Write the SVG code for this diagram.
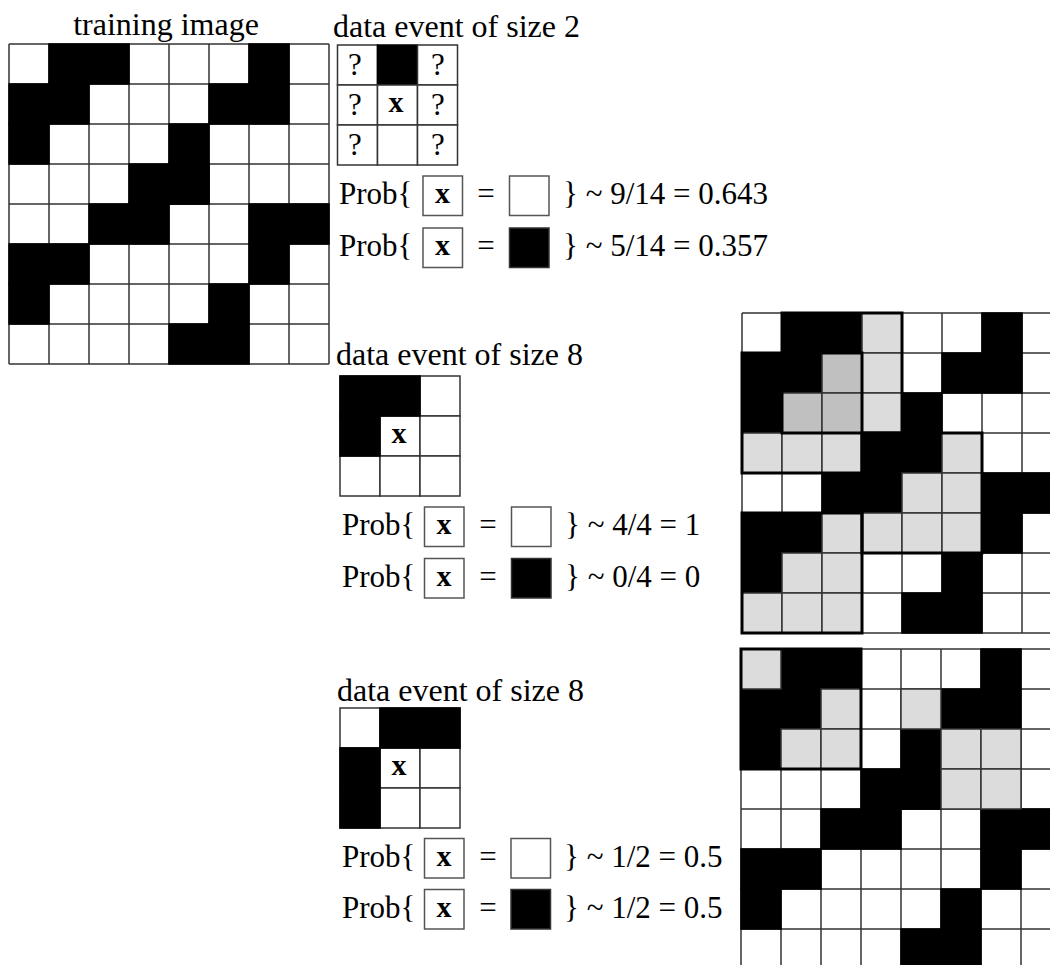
<svg xmlns="http://www.w3.org/2000/svg" xmlns:xlink="http://www.w3.org/1999/xlink" width="1050" height="965" viewBox="0 0 1050 965">
<style>
text{font-family:"Liberation Serif","Times New Roman",serif;font-size:31px;fill:#000}
.t{font-size:32px}
.bx{font-weight:bold;font-size:30px;text-anchor:middle}
.q{text-anchor:middle}
.mid{text-anchor:middle}
.cw{fill:#fff;stroke:#333;stroke-width:1.5}
.cb{fill:#000;stroke:#000;stroke-width:1.5}
.g1{fill:#dcdcdc;stroke:#333;stroke-width:1.5}
.g2{fill:#c0c0c0;stroke:#333;stroke-width:1.5}
.win{fill:none;stroke:#000;stroke-width:3}
.pb{fill:#fff;stroke:#555;stroke-width:1.5}
.pbb{fill:#000;stroke:#333;stroke-width:1.5}
</style>
<defs>
<g id="ti">
<rect x="0" y="0" width="320" height="320" fill="#fff"/>
<path d="M0 0V320M40 0V320M80 0V320M120 0V320M160 0V320M200 0V320M240 0V320M280 0V320M320 0V320M0 0H320M0 40H320M0 80H320M0 120H320M0 160H320M0 200H320M0 240H320M0 280H320M0 320H320" fill="none" stroke="#333" stroke-width="1.5"/>
<g fill="#000" stroke="#000" stroke-width="1.5">
<rect x="40" y="0" width="80" height="40"/>
<rect x="240" y="0" width="40" height="40"/>
<rect x="0" y="40" width="80" height="40"/>
<rect x="200" y="40" width="80" height="40"/>
<rect x="0" y="80" width="40" height="40"/>
<rect x="160" y="80" width="40" height="40"/>
<rect x="120" y="120" width="80" height="40"/>
<rect x="80" y="160" width="80" height="40"/>
<rect x="240" y="160" width="80" height="40"/>
<rect x="0" y="200" width="80" height="40"/>
<rect x="240" y="200" width="40" height="40"/>
<rect x="0" y="240" width="40" height="40"/>
<rect x="200" y="240" width="40" height="40"/>
<rect x="160" y="280" width="80" height="40"/>
<rect x="160" y="120" width="40" height="40"/>
</g>
</g>
</defs>

<g id="training-image">
<text class="mid t" x="166" y="35">training image</text>
<use xlink:href="#ti" x="9" y="44"/>
</g>

<g id="data-event-1">
<text class="t" x="333" y="37">data event of size 2</text>
<rect class="cw" x="337.5" y="45" width="40" height="40"/>
<rect class="cb" x="377.5" y="45" width="40" height="40"/>
<rect class="cw" x="417.5" y="45" width="40" height="40"/>
<rect class="cw" x="337.5" y="85" width="40" height="40"/>
<rect class="cw" x="377.5" y="85" width="40" height="40"/>
<rect class="cw" x="417.5" y="85" width="40" height="40"/>
<rect class="cw" x="337.5" y="125" width="40" height="40"/>
<rect class="cw" x="377.5" y="125" width="40" height="40"/>
<rect class="cw" x="417.5" y="125" width="40" height="40"/>
<text class="q" x="355" y="75">?</text>
<text class="q" x="438" y="75">?</text>
<text class="q" x="355" y="115">?</text>
<text class="bx" x="396" y="112">x</text>
<text class="q" x="438" y="115">?</text>
<text class="q" x="355" y="155">?</text>
<text class="q" x="438" y="155">?</text>
</g>

<g id="prob-1">
<text x="339" y="204">Prob{</text>
<rect class="pb" x="423" y="176" width="39.5" height="39.5"/>
<text class="bx" x="442.5" y="203">x</text>
<text class="mid" x="486" y="204">=</text>
<rect class="pb" x="509.5" y="176" width="39.5" height="39.5"/>
<text x="563" y="204">} ~ 9/14 = 0.643</text>
<text x="339" y="256">Prob{</text>
<rect class="pb" x="423" y="228" width="39.5" height="39.5"/>
<text class="bx" x="442.5" y="255">x</text>
<text class="mid" x="486" y="256">=</text>
<rect class="pbb" x="509.5" y="228" width="39.5" height="39.5"/>
<text x="563" y="256">} ~ 5/14 = 0.357</text>
</g>

<g id="data-event-2">
<text class="t" x="336" y="365">data event of size 8</text>
<rect class="cw" x="340" y="376" width="40" height="40"/>
<rect class="cw" x="380" y="376" width="40" height="40"/>
<rect class="cw" x="420" y="376" width="40" height="40"/>
<rect class="cw" x="340" y="416" width="40" height="40"/>
<rect class="cw" x="380" y="416" width="40" height="40"/>
<rect class="cw" x="420" y="416" width="40" height="40"/>
<rect class="cw" x="340" y="456" width="40" height="40"/>
<rect class="cw" x="380" y="456" width="40" height="40"/>
<rect class="cw" x="420" y="456" width="40" height="40"/>
<rect class="cb" x="340" y="376" width="80" height="40"/>
<rect class="cb" x="340" y="416" width="40" height="40"/>
<text class="bx" x="399" y="443">x</text>
</g>

<g id="prob-2">
<text x="342" y="535">Prob{</text>
<rect class="pb" x="424.5" y="507" width="39.5" height="39.5"/>
<text class="bx" x="444" y="534">x</text>
<text class="mid" x="488" y="535">=</text>
<rect class="pb" x="511.5" y="507" width="39.5" height="39.5"/>
<text x="565" y="535">} ~ 4/4 = 1</text>
<text x="342" y="587">Prob{</text>
<rect class="pb" x="424.5" y="558.5" width="39.5" height="39.5"/>
<text class="bx" x="444" y="586">x</text>
<text class="mid" x="488" y="587">=</text>
<rect class="pbb" x="511.5" y="558.5" width="39.5" height="39.5"/>
<text x="565" y="587">} ~ 0/4 = 0</text>
</g>

<g id="data-event-3">
<text class="t" x="337" y="701">data event of size 8</text>
<rect class="cw" x="340" y="708" width="40" height="40"/>
<rect class="cw" x="380" y="708" width="40" height="40"/>
<rect class="cw" x="420" y="708" width="40" height="40"/>
<rect class="cw" x="340" y="748" width="40" height="40"/>
<rect class="cw" x="380" y="748" width="40" height="40"/>
<rect class="cw" x="420" y="748" width="40" height="40"/>
<rect class="cw" x="340" y="788" width="40" height="40"/>
<rect class="cw" x="380" y="788" width="40" height="40"/>
<rect class="cw" x="420" y="788" width="40" height="40"/>
<rect class="cb" x="380" y="708" width="80" height="40"/>
<rect class="cb" x="340" y="748" width="40" height="80"/>
<text class="bx" x="399" y="775">x</text>
</g>

<g id="prob-3">
<text x="342" y="867">Prob{</text>
<rect class="pb" x="424.5" y="838.5" width="39.5" height="39.5"/>
<text class="bx" x="444" y="866">x</text>
<text class="mid" x="488" y="867">=</text>
<rect class="pb" x="511" y="838.5" width="39.5" height="39.5"/>
<text x="564" y="867">} ~ 1/2 = 0.5</text>
<text x="342" y="918">Prob{</text>
<rect class="pb" x="424.5" y="889.5" width="39.5" height="39.5"/>
<text class="bx" x="444" y="917">x</text>
<text class="mid" x="488" y="918">=</text>
<rect class="pbb" x="511" y="889.5" width="39.5" height="39.5"/>
<text x="564" y="918">} ~ 1/2 = 0.5</text>
</g>

<g id="matches-1" transform="translate(742,313)">
<use xlink:href="#ti"/>
<rect class="g1" x="120" y="0" width="40" height="40"/>
<rect class="g1" x="120" y="40" width="40" height="40"/>
<rect class="g1" x="120" y="80" width="40" height="40"/>
<rect class="g1" x="0" y="120" width="40" height="40"/>
<rect class="g1" x="40" y="120" width="40" height="40"/>
<rect class="g1" x="80" y="120" width="40" height="40"/>
<rect class="g1" x="200" y="120" width="40" height="40"/>
<rect class="g1" x="160" y="160" width="40" height="40"/>
<rect class="g1" x="200" y="160" width="40" height="40"/>
<rect class="g1" x="80" y="200" width="40" height="40"/>
<rect class="g1" x="120" y="200" width="40" height="40"/>
<rect class="g1" x="160" y="200" width="40" height="40"/>
<rect class="g1" x="200" y="200" width="40" height="40"/>
<rect class="g1" x="40" y="240" width="40" height="40"/>
<rect class="g1" x="80" y="240" width="40" height="40"/>
<rect class="g1" x="0" y="280" width="40" height="40"/>
<rect class="g1" x="40" y="280" width="40" height="40"/>
<rect class="g1" x="80" y="280" width="40" height="40"/>
<rect class="g2" x="80" y="40" width="40" height="40"/>
<rect class="g2" x="40" y="80" width="40" height="40"/>
<rect class="g2" x="80" y="80" width="40" height="40"/>
<rect class="win" x="40" y="0" width="120" height="120"/>
<rect class="win" x="0" y="40" width="120" height="120"/>
<rect class="win" x="120" y="120" width="120" height="120"/>
<rect class="win" x="0" y="200" width="120" height="120"/>
</g>

<g id="matches-2" transform="translate(741,649)">
<use xlink:href="#ti"/>
<rect class="g1" x="0" y="0" width="40" height="40"/>
<rect class="g1" x="80" y="40" width="40" height="40"/>
<rect class="g1" x="160" y="40" width="40" height="40"/>
<rect class="g1" x="40" y="80" width="40" height="40"/>
<rect class="g1" x="80" y="80" width="40" height="40"/>
<rect class="g1" x="200" y="80" width="40" height="40"/>
<rect class="g1" x="240" y="80" width="40" height="40"/>
<rect class="g1" x="200" y="120" width="40" height="40"/>
<rect class="g1" x="240" y="120" width="40" height="40"/>
<rect class="win" x="0" y="0" width="120" height="120"/>
</g>
</svg>
